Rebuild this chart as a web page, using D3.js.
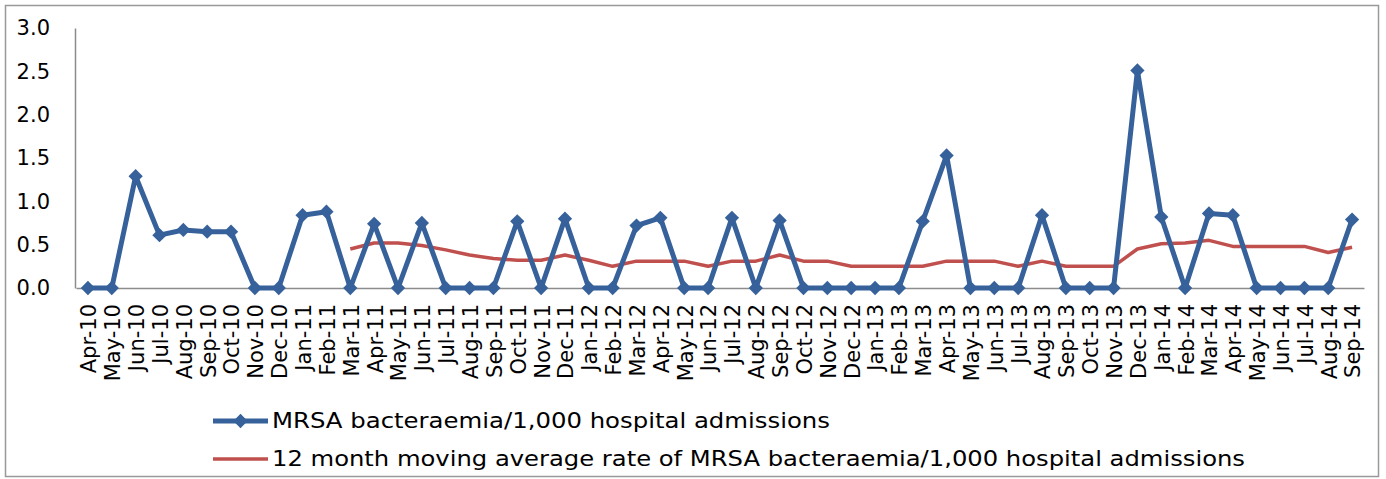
<!DOCTYPE html>
<html>
<head>
<meta charset="utf-8">
<script src="https://cdn.jsdelivr.net/npm/d3@7"></script>
<style>
  body { margin: 0; background: #fff; }
  text { font-family: "DejaVu Sans", Verdana, sans-serif; fill: #000; }
</style>
</head>
<body>
<script>
// months on the x axis
const months = ["Apr-10","May-10","Jun-10","Jul-10","Aug-10","Sep-10","Oct-10","Nov-10","Dec-10",
  "Jan-11","Feb-11","Mar-11","Apr-11","May-11","Jun-11","Jul-11","Aug-11","Sep-11","Oct-11","Nov-11","Dec-11",
  "Jan-12","Feb-12","Mar-12","Apr-12","May-12","Jun-12","Jul-12","Aug-12","Sep-12","Oct-12","Nov-12","Dec-12",
  "Jan-13","Feb-13","Mar-13","Apr-13","May-13","Jun-13","Jul-13","Aug-13","Sep-13","Oct-13","Nov-13","Dec-13",
  "Jan-14","Feb-14","Mar-14","Apr-14","May-14","Jun-14","Jul-14","Aug-14","Sep-14"];

// monthly rate
const rate = [0, 0, 1.29, 0.61, 0.67, 0.65, 0.65, 0, 0,
  0.84, 0.88, 0, 0.74, 0, 0.75, 0, 0, 0, 0.77, 0, 0.80,
  0, 0, 0.72, 0.81, 0, 0, 0.81, 0, 0.78, 0, 0, 0,
  0, 0, 0.77, 1.53, 0, 0, 0, 0.84, 0, 0, 0, 2.51,
  0.82, 0, 0.86, 0.84, 0, 0, 0, 0, 0.79];

// 12 month moving average (starts Mar-11)
const movingAvg = [null, null, null, null, null, null, null, null, null, null, null,
  0.45, 0.52, 0.52, 0.49, 0.44, 0.38, 0.34, 0.32, 0.32, 0.38,
  0.32, 0.25, 0.31, 0.31, 0.31, 0.25, 0.31, 0.31, 0.38, 0.31, 0.31, 0.25,
  0.25, 0.25, 0.25, 0.31, 0.31, 0.31, 0.25, 0.31, 0.25, 0.25, 0.25, 0.45,
  0.51, 0.52, 0.55, 0.48, 0.48, 0.48, 0.48, 0.41, 0.47];

const yTicks = [0, 0.5, 1.0, 1.5, 2.0, 2.5, 3.0];

const seriesNames = ["MRSA bacteraemia/1,000 hospital admissions",
  "12 month moving average rate of MRSA bacteraemia/1,000 hospital admissions"];

const W = 1386, H = 479;
const blue = "#36619a", red = "#c0504d", grey = "#8c8c8c";

const svg = d3.select("body").append("svg")
  .attr("width", W)
  .attr("height", H);

// outer border
svg.append("rect")
  .attr("x", 5.5).attr("y", 5.5)
  .attr("width", 1373).attr("height", 471)
  .attr("fill", "#fff")
  .attr("stroke", "#999").attr("stroke-width", 1.5);

const x = d3.scaleBand().domain(months).range([76, 1364]);
const y = d3.scaleLinear().domain([0, 3]).range([288, 28]);
const cx = d => x(d) + x.bandwidth() / 2;

// y axis
const yAxis = svg.append("g")
  .attr("transform", "translate(75,0)")
  .call(d3.axisLeft(y).tickValues(yTicks).tickFormat(d3.format(".1f")).tickSize(0).tickPadding(25));
yAxis.select(".domain").attr("stroke", grey).attr("stroke-width", 1.5);
yAxis.selectAll("text").attr("font-size", 21).attr("font-family", "DejaVu Sans");

// x axis
const xAxis = svg.append("g")
  .attr("transform", "translate(0,288)")
  .call(d3.axisBottom(x).tickSize(0).tickSizeOuter(0));
xAxis.select(".domain").attr("stroke", grey).attr("stroke-width", 1.5);
xAxis.selectAll("text")
  .attr("font-size", 21)
  .attr("font-family", "DejaVu Sans")
  .attr("text-anchor", "end")
  .attr("transform", "rotate(-90)")
  .attr("x", -16)
  .attr("y", 0)
  .attr("dy", "0.4em");

// moving average line
const avgLine = d3.line()
  .defined(d => d.v != null)
  .x(d => cx(d.m))
  .y(d => y(d.v));
svg.append("path")
  .datum(months.map((m, i) => ({ m, v: movingAvg[i] })))
  .attr("d", avgLine)
  .attr("fill", "none")
  .attr("stroke", red)
  .attr("stroke-width", 3.5)
  .attr("stroke-linejoin", "round");

// rate line
const rateData = months.map((m, i) => ({ m, v: rate[i] }));
svg.append("path")
  .datum(rateData)
  .attr("d", d3.line().x(d => cx(d.m)).y(d => y(d.v)))
  .attr("fill", "none")
  .attr("stroke", blue)
  .attr("stroke-width", 5)
  .attr("stroke-linejoin", "round");

const diamond = d3.symbol().type(d3.symbolDiamond2).size(130);
svg.selectAll(".pt")
  .data(rateData)
  .join("path")
  .attr("class", "pt")
  .attr("transform", d => `translate(${cx(d.m)},${y(d.v)})`)
  .attr("d", diamond)
  .attr("fill", blue);

// legend
const legend = svg.append("g");
const lgRows = [
  { name: seriesNames[0], color: blue, w: 5, marker: true, y: 421, len: 558 },
  { name: seriesNames[1], color: red, w: 3.5, marker: false, y: 459, len: 973 }
];
lgRows.forEach(r => {
  legend.append("line")
    .attr("x1", 213).attr("x2", 268)
    .attr("y1", r.y).attr("y2", r.y)
    .attr("stroke", r.color).attr("stroke-width", r.w);
  if (r.marker) {
    legend.append("path")
      .attr("transform", `translate(240.5,${r.y})`)
      .attr("d", diamond)
      .attr("fill", r.color);
  }
  legend.append("text")
    .attr("x", 272)
    .attr("y", r.y)
    .attr("dy", "0.35em")
    .attr("font-size", 21)
    .attr("textLength", r.len)
    .attr("lengthAdjust", "spacingAndGlyphs")
    .text(r.name);
});
</script>
</body>
</html>
